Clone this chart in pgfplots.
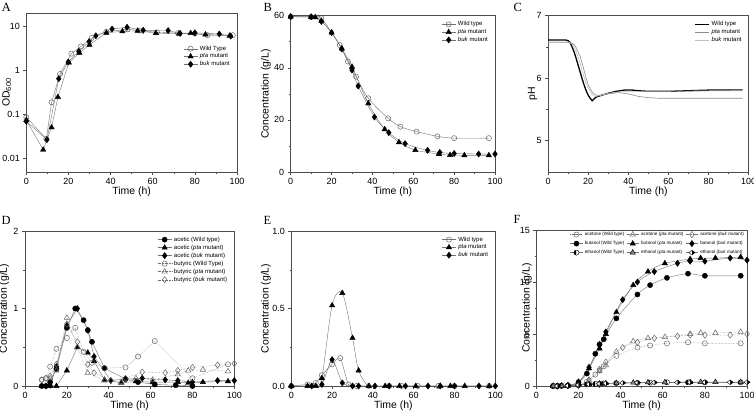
\documentclass[border=0pt]{standalone}
\usepackage{fontspec}
\setmainfont{Liberation Sans}
\newfontfamily\serifletter{Liberation Serif}
\usepackage{pgfplots}
\pgfplotsset{compat=1.18}
\usetikzlibrary{plotmarks}

\pgfplotsset{
 panel/.style={scale only axis,
   font=\fontsize{9}{10}\selectfont,
   /pgf/number format/assume math mode=true,
   xmin=0, xmax=100, xtick={0,20,...,100}, minor x tick num=1,
   minor y tick num=1,
   tick align=outside, xtick pos=bottom, ytick pos=left,
   axis line style={black!70, line width=0.5bp},
   every tick/.style={black!70, line width=0.5bp},
   major tick length=3bp, minor tick length=1.8bp,
   xlabel={Time (h)},
   label style={font=\fontsize{10.5}{12}\selectfont},
   xlabel style={at={(axis description cs:0.5,-0.125)}, anchor=center},
   legend style={draw=none, fill=none, font=\fontsize{6}{7}\selectfont,
     anchor=north east, cells={anchor=west}, row sep=-1.8bp},
   legend image code/.code={\draw[mark repeat=2,mark phase=2] plot coordinates {(0cm,0cm)(0.25cm,0cm)(0.5cm,0cm)};},
 },
 ln/.style={draw=black!55, line width=0.4bp},
 wt/.style={ln, mark=o, mark size=2.6bp, mark options={solid, draw=black!60, fill=white, line width=0.5bp}},
 pta/.style={ln, mark=triangle*, mark size=3.1bp, mark options={solid, draw=black, fill=black}},
 buk/.style={ln, mark=diamond*, mark size=3.1bp, mark options={solid, draw=black, fill=black}},
 wtf/.style={ln, mark=*, mark size=2.6bp, mark options={solid, draw=black, fill=black}},
 ptao/.style={ln, mark=triangle, mark size=3.1bp, mark options={solid, draw=black!60, fill=white, line width=0.5bp}},
 buko/.style={ln, mark=diamond, mark size=3.1bp, mark options={solid, draw=black!60, fill=white, line width=0.5bp}},
}

\begin{document}
\begin{tikzpicture}[x=1bp,y=1bp]
\useasboundingbox (0,0) rectangle (754,413);

% ---------------- Panel A ----------------
\begin{axis}[panel, at={(26.3bp,241bp)}, anchor=south west, width=210.7bp, height=159bp,
  ymode=log, ymin=0.005, ymax=20, ytick={0.01,0.1,1,10}, yticklabels={0.01,0.1,1,10},
  yminorticks=false,
  ylabel={OD\textsubscript{600}}, ylabel style={at={(axis description cs:-0.093,0.5)}, anchor=center},
  legend style={at={(0.99,0.82)}}]
\addplot[wt] coordinates {(0,0.087)(9.5,0.028)(12,0.19)(16,0.83)(21.4,2.4)(26,3.5)(31,5.4)(38,7.5)(48,8.5)(54,8.0)(62,7.3)(72,7.0)(80,6.8)(86,6.3)(98,6.3)};
\addlegendentry{Wild Type}
\addplot[pta] coordinates {(0,0.075)(8,0.016)(12,0.051)(15,0.25)(20.2,1.5)(25.2,2.5)(30,3.8)(38,7.1)(45.6,7.7)(52.8,7.9)(61.5,7.0)(72.5,6.8)(78,7.0)(85,6.5)(96.5,6.1)};
\addlegendentry{\textit{pta} mutant}
\addplot[buk] coordinates {(0,0.07)(9.8,0.027)(15.4,0.65)(19.9,1.55)(24.9,2.7)(29.8,4.5)(33,6.1)(40.7,8.7)(47.8,9.5)(55.5,8.1)(67.3,8.0)(73,6.9)(80,7.1)(91.6,6.7)(97,6.0)};
\addlegendentry{\textit{buk} mutant}
\end{axis}

% ---------------- Panel B ----------------
\begin{axis}[panel, at={(290.7bp,241bp)}, anchor=south west, width=204.3bp, height=156.3bp,
  ymin=0, ymax=60, ytick={0,20,40,60},
  ylabel={Concentration (g/L)}, ylabel style={at={(axis description cs:-0.121,0.5)}, anchor=center},
  legend style={at={(0.99,0.99)}}]
\addplot[wt, smooth, tension=0.5] coordinates {(0,59.6)(10,59.5)(15,59)(24,48.7)(28,42.4)(32,36.6)(38,28.3)(47.7,20.6)(53.7,17.4)(61.6,15.5)(71.8,13.7)(80,13.0)(97,13.0)};
\addlegendentry{Wild type}
\addplot[pta, smooth, tension=0.5] coordinates {(0,59.6)(10,59.5)(12,59.4)(15,58)(20,53.5)(25,47.4)(30,40.4)(38,26.3)(46,16.4)(53,11.4)(61,8.4)(72.5,6.9)(78,6.5)(85,6.4)(97,6.4)};
\addlegendentry{\textit{pta} mutant}
\addplot[buk, smooth, tension=0.5] coordinates {(0,59.6)(10,59.6)(15,57.8)(20,53.5)(25,47.2)(30,39.1)(33,33)(41,21.1)(48,15.1)(56,10.9)(67,8.3)(73,7.5)(80,7.1)(92,6.9)(100,6.9)};
\addlegendentry{\textit{buk} mutant}
\end{axis}

% ---------------- Panel C ----------------
\begin{axis}[panel, at={(548bp,241bp)}, anchor=south west, width=200.7bp, height=156.3bp,
  ymin=4.5, ymax=7, ytick={5,6,7},
  ylabel={pH}, ylabel style={at={(axis description cs:-0.077,0.5)}, anchor=center},
  legend style={at={(0.99,0.99)}}]
\addplot[black, line width=1.3bp] coordinates {(0,6.61)(5,6.61)(9,6.61)(10,6.60)(11,6.57)(12,6.50)(13,6.42)(14,6.32)(15,6.21)(16,6.10)(17,5.99)(18,5.89)(19,5.80)(20,5.73)(21,5.68)(22,5.64)(23,5.67)(24,5.70)(26,5.72)(30,5.76)(34,5.79)(38,5.81)(42,5.81)(45,5.80)(50,5.79)(60,5.79)(70,5.80)(80,5.81)(97,5.81)};
\addlegendentry{Wild type}
\addplot[black!45, line width=0.6bp] coordinates {(0,6.57)(10,6.57)(12,6.56)(13,6.54)(14,6.49)(15,6.42)(16,6.35)(17,6.24)(18,6.12)(19,6.0)(20,5.9)(21,5.83)(22,5.78)(23,5.75)(24,5.73)(26,5.73)(30,5.75)(35,5.77)(40,5.75)(45,5.71)(50,5.69)(55,5.68)(97,5.68)};
\addlegendentry{\textit{pta} mutant}
\addplot[black!25, line width=0.6bp] coordinates {(0,6.58)(10,6.58)(12,6.55)(13,6.5)(14,6.43)(15,6.34)(16,6.24)(17,6.12)(18,6.01)(19,5.92)(20,5.85)(21,5.79)(22,5.74)(23,5.72)(24,5.71)(27,5.73)(30,5.76)(35,5.78)(40,5.79)(50,5.79)(97,5.80)};
\addlegendentry{\textit{buk} mutant}
\end{axis}

% ---------------- Panel D ----------------
\begin{axis}[panel, at={(25bp,27bp)}, anchor=south west, width=209.3bp, height=155bp,
  ymin=0, ymax=2, ytick={0,1,2},
  ylabel={Concentration (g/L)}, ylabel style={at={(axis description cs:-0.1,0.5)}, anchor=center},
  legend style={at={(0.99,0.99)}}]
\addplot[wtf] coordinates {(8,0)(10,0)(12,0.05)(15,0.22)(20,0.75)(24,1.0)(28,0.85)(30,0.72)(32,0.57)(38,0.23)(48,0.09)(54,0.05)(62,0.02)(72,0.01)(80,0)};
\addlegendentry{acetic (Wild type)}
\addplot[pta] coordinates {(8,0)(12,0)(15,0)(20,0.2)(25,0.5)(30,0.43)(33,0.32)(38,0.08)(46,0.04)(53,0.06)(61,0.05)(73,0.05)(78,0.04)(85,0.05)(97,0.06)};
\addlegendentry{acetic (\textit{pta} mutant)}
\addplot[buk] coordinates {(10,0)(12,0.01)(15,0.25)(20,0.78)(25,1.0)(30,0.72)(33,0.38)(41,0.07)(48,0.09)(56,0.1)(67,0.08)(73,0.07)(80,0.05)(92,0.07)(100,0.07)};
\addlegendentry{acetic (\textit{buk} mutant)}
\addplot[wt, densely dotted] coordinates {(8,0.08)(10,0.1)(12,0.25)(15,0.48)(20,0.62)(24,0.75)(28,0.44)(32,0.3)(38,0.23)(48,0.24)(54,0.38)(62,0.58)(80,0.1)(97,0.28)};
\addlegendentry{butyric (Wild Type)}
\addplot[ptao, densely dotted] coordinates {(12,0.1)(15,0.2)(20,0.88)(25,0.5)(30,0.17)(38,0.07)(46,0.05)(53,0.1)(61,0.08)(73,0.15)(78,0.2)(85,0.21)(97,0.19)};
\addlegendentry{butyric (\textit{pta} mutant)}
\addplot[buko, densely dotted] coordinates {(8,0.08)(10,0.1)(12,0.13)(15,0.28)(20,0.8)(25,0.57)(30,0.28)(33,0.17)(41,0.07)(48,0.1)(56,0.18)(67,0.17)(73,0.2)(80,0.24)(92,0.27)(100,0.29)};
\addlegendentry{butyric (\textit{buk} mutant)}
\end{axis}

% ---------------- Panel E ----------------
\begin{axis}[panel, at={(291.3bp,27bp)}, anchor=south west, width=204bp, height=155bp,
  ymin=0, ymax=1, ytick={0,0.5,1}, yticklabels={0.0,0.5,1.0},
  ylabel={Concentration (g/L)}, ylabel style={at={(axis description cs:-0.124,0.5)}, anchor=center},
  legend style={at={(0.99,0.99)}}]
\addplot[wt, smooth, tension=0.4] coordinates {(0,0)(8,0.01)(12,0.02)(15,0.07)(20,0.14)(24,0.18)(28,0.01)(32,0)(38,0)(48,0)(54,0)(62,0)(72,0)(80,0)(97,0)};
\addlegendentry{Wild type}
\addplot[pta, smooth, tension=0.5] coordinates {(0,0)(8,0)(12,0)(15,0.05)(20,0.52)(25,0.6)(30,0.31)(33,0.1)(38,0)(46,0)(53,0)(61,0)(73,0)(78,0)(85,0)(97,0)};
\addlegendentry{\textit{pta} mutant}
\addplot[buk, smooth, tension=0.4] coordinates {(0,0)(10,0)(15,0.01)(20,0.17)(25,0.02)(30,0)(33,0)(41,0)(48,0)(56,0)(67,0)(73,0)(80,0)(92,0)(100,0)};
\addlegendentry{\textit{buk} mutant}
\end{axis}

% ---------------- Panel F ----------------
\begin{axis}[panel, at={(536.3bp,27bp)}, anchor=south west, width=210.7bp, height=156bp,
  ymin=0, ymax=15, ytick={0,5,10,15},
  ylabel={Concentration (g/L)}, ylabel style={at={(axis description cs:-0.044,0.5)}, anchor=center},
  legend columns=3,
  legend style={at={(1.0,1.0)}, yshift=1bp, font=\fontsize{4.6}{5.5}\selectfont, row sep=0.2bp, inner sep=1bp},
  legend image code/.code={\draw[mark repeat=2,mark phase=2] plot coordinates {(0cm,0cm)(0.22cm,0cm)(0.44cm,0cm)};},
  ]
\addplot[wt, densely dotted, smooth] coordinates {(8,0)(10,0)(12,0.02)(15,0.04)(20,0.1)(24,0.4)(28,1.1)(30,1.5)(32,1.9)(38,2.9)(48,3.7)(54,3.9)(62,4.1)(72,4.2)(80,4.1)(97,4.1)};
\addlegendentry{acetone (Wild type)}
\addplot[ptao, densely dotted, smooth] coordinates {(8,0)(12,0.02)(15,0.04)(20,0.1)(25,0.5)(30,1.4)(33,2.0)(38,3.3)(46,4.3)(53,4.6)(61,4.7)(73,5.0)(78,5.1)(85,5.1)(97,5.2)};
\addlegendentry{acetone (\textit{pta} mutant)}
\addplot[buko, densely dotted, smooth] coordinates {(10,0)(15,0.04)(20,0.1)(25,0.6)(30,1.6)(33,2.3)(41,3.7)(48,4.2)(56,4.6)(67,4.8)(73,4.9)(80,4.9)(92,4.9)(100,5.0)};
\addlegendentry{acetone (\textit{buk} mutant)}
\addplot[wtf, smooth] coordinates {(8,0)(10,0)(12,0.02)(15,0.05)(20,0.35)(24,1.2)(28,3.1)(30,4.0)(32,4.5)(38,6.5)(48,8.8)(54,9.7)(62,10.4)(72,10.8)(80,10.6)(97,10.6)};
\addlegendentry{butanol (Wild Type)}
\addplot[pta, smooth] coordinates {(8,0)(12,0.02)(15,0.05)(20,0.3)(25,1.7)(30,3.6)(33,5.0)(38,7.1)(46,9.7)(53,11.0)(61,11.8)(73,12.2)(78,12.3)(85,12.3)(97,12.4)};
\addlegendentry{butanol (\textit{pta} mutant)}
\addplot[buk, smooth] coordinates {(10,0)(15,0.05)(20,0.4)(25,1.8)(30,4.0)(33,5.2)(41,8.3)(48,10.0)(56,11.0)(67,11.8)(73,12.0)(80,12.0)(92,12.3)(100,12.1)};
\addlegendentry{butanol (\textit{buk} mutant)}
\addplot[ln, mark=halfcircle*, mark size=2.6bp, mark options={solid, draw=black, fill=black, rotate=90}] coordinates {(8,0)(10,0)(12,0.02)(15,0.03)(20,0.08)(24,0.15)(28,0.2)(30,0.22)(32,0.25)(38,0.28)(48,0.3)(54,0.32)(62,0.35)(72,0.35)(80,0.35)(97,0.35)};
\addlegendentry{ethanol (Wild Type)}
\addplot[ln, mark=triangle*, mark size=3.1bp, mark options={solid, draw=black, fill=black!50}] coordinates {(8,0)(12,0)(15,0.03)(20,0.1)(25,0.18)(30,0.22)(33,0.25)(38,0.28)(46,0.32)(53,0.35)(61,0.36)(73,0.37)(78,0.38)(85,0.38)(97,0.38)};
\addlegendentry{ethanol (\textit{pta} mutant)}
\addplot[ln, mark=halfdiamond*, mark size=3.1bp, mark options={solid, draw=black, fill=black, rotate=90}] coordinates {(10,0)(15,0.03)(20,0.1)(25,0.17)(30,0.22)(33,0.25)(41,0.3)(48,0.32)(56,0.34)(67,0.35)(73,0.36)(80,0.36)(92,0.36)(100,0.36)};
\addlegendentry{ethanol (\textit{buk} mutant)}
\end{axis}

% panel letters
\begin{scope}[every node/.style={font=\serifletter\fontsize{12.5}{13}\selectfont, inner sep=0pt, anchor=north west}]
\node at (1.8,410.3) {A};
\node at (263.5,410.3) {B};
\node at (513.5,410.3) {C};
\node at (1.5,197.2) {D};
\node at (263.5,197.2) {E};
\node at (513.5,197.8) {F};
\end{scope}
\end{tikzpicture}
\end{document}
